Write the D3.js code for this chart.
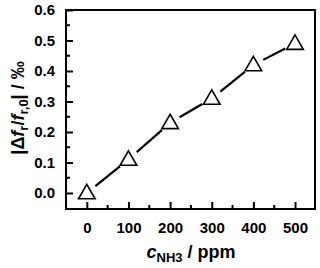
<!DOCTYPE html>
<html>
<head>
<meta charset="utf-8">
<script src="https://cdn.jsdelivr.net/npm/d3@7"></script>
<style>
  body { margin: 0; background: #fff; }
  svg { display: block; font-family: "Liberation Sans", Arial, sans-serif; font-weight: bold; }
</style>
</head>
<body>
<div id="chart"></div>
<script>
var conc = [0, 100, 200, 300, 400, 500];
var shift = [0.0, 0.11, 0.23, 0.31, 0.42, 0.49];
var xTicks = [0, 100, 200, 300, 400, 500];
var yTicks = [0.0, 0.1, 0.2, 0.3, 0.4, 0.5, 0.6];

var width = 320,
    height = 268,
    plotLeft = 66,
    plotTop = 10,
    plotRight = 315,
    plotBottom = 209;

var svg = d3.select('#chart')
    .append('svg')
    .attr('width', width)
    .attr('height', height);

var x = d3.scaleLinear().domain([-50, 548]).range([plotLeft, plotRight]);
var y = d3.scaleLinear().domain([-0.0525, 0.6]).range([plotBottom, plotTop]);

// minor ticks at the half steps
var xMinor = d3.range(50, 500, 100);
var yMinor = d3.range(0.05, 0.6, 0.1);

var xAxis = d3.axisBottom(x).tickValues(xTicks).tickSizeInner(-7).tickSizeOuter(0)
    .tickPadding(13).tickFormat(d3.format('d'));
var yAxis = d3.axisLeft(y).tickValues(yTicks).tickSizeInner(-7).tickSizeOuter(0)
    .tickPadding(11).tickFormat(d3.format('.1f'));

var gx = svg.append('g').attr('transform', 'translate(0,' + plotBottom + ')').call(xAxis);
var gy = svg.append('g').attr('transform', 'translate(' + plotLeft + ',0)').call(yAxis);
[gx, gy].forEach(function (g) {
    g.select('.domain').remove();
    g.selectAll('line').attr('stroke', '#000').attr('stroke-width', 2);
    g.selectAll('text').attr('font-size', 15).attr('font-weight', 'bold')
        .attr('font-family', '"Liberation Sans", Arial, sans-serif').attr('fill', '#000');
});

svg.append('g').selectAll('line')
    .data(xMinor).enter().append('line')
    .attr('x1', function (d) { return x(d); }).attr('x2', function (d) { return x(d); })
    .attr('y1', plotBottom).attr('y2', plotBottom - 4)
    .attr('stroke', '#000').attr('stroke-width', 2);

svg.append('g').selectAll('line')
    .data(yMinor).enter().append('line')
    .attr('y1', function (d) { return y(d); }).attr('y2', function (d) { return y(d); })
    .attr('x1', plotLeft).attr('x2', plotLeft + 4)
    .attr('stroke', '#000').attr('stroke-width', 2);

svg.append('rect')
    .attr('x', plotLeft).attr('y', plotTop)
    .attr('width', plotRight - plotLeft).attr('height', plotBottom - plotTop)
    .attr('fill', 'none').attr('stroke', '#000').attr('stroke-width', 2);

// line segments with a gap around each marker
var pts = conc.map(function (c, i) { return [x(c), y(shift[i])]; });
var gap = 11;
var segs = [];
for (var i = 0; i < pts.length - 1; i++) {
    var a = pts[i], b = pts[i + 1];
    var dx = b[0] - a[0], dy = b[1] - a[1];
    var len = Math.sqrt(dx * dx + dy * dy);
    segs.push([a[0] + dx / len * gap, a[1] + dy / len * gap,
               b[0] - dx / len * gap, b[1] - dy / len * gap]);
}
svg.append('g').selectAll('line')
    .data(segs).enter().append('line')
    .attr('x1', function (d) { return d[0]; }).attr('y1', function (d) { return d[1]; })
    .attr('x2', function (d) { return d[2]; }).attr('y2', function (d) { return d[3]; })
    .attr('stroke', '#000').attr('stroke-width', 2.2);

var tri = d3.symbol().type(d3.symbolTriangle).size(120);
svg.append('g').selectAll('path')
    .data(pts).enter().append('path')
    .attr('d', tri)
    .attr('transform', function (d) { return 'translate(' + d[0] + ',' + (d[1] + 1) + ')'; })
    .attr('fill', 'none').attr('stroke', '#000').attr('stroke-width', 1.6);

// axis titles
var xl = svg.append('text')
    .attr('x', 191).attr('y', 258)
    .attr('text-anchor', 'middle')
    .attr('font-size', 18);
xl.append('tspan').attr('font-style', 'italic').text('c');
xl.append('tspan').attr('font-size', 13).attr('dy', 4).text('NH3');
xl.append('tspan').attr('dy', -4).text(' / ppm');

var yl = svg.append('text')
    .attr('transform', 'translate(24,108) rotate(-90)')
    .attr('text-anchor', 'middle')
    .attr('font-size', 18);
yl.append('tspan').text('|Δ');
yl.append('tspan').attr('font-style', 'italic').text('f');
yl.append('tspan').attr('font-size', 13).attr('dy', 4).text('r');
yl.append('tspan').attr('dy', -4).text('/');
yl.append('tspan').attr('font-style', 'italic').text('f');
yl.append('tspan').attr('font-size', 13).attr('dy', 4).text('r,0');
yl.append('tspan').attr('dy', -4).text('| / ‰');
</script>
</body>
</html>
